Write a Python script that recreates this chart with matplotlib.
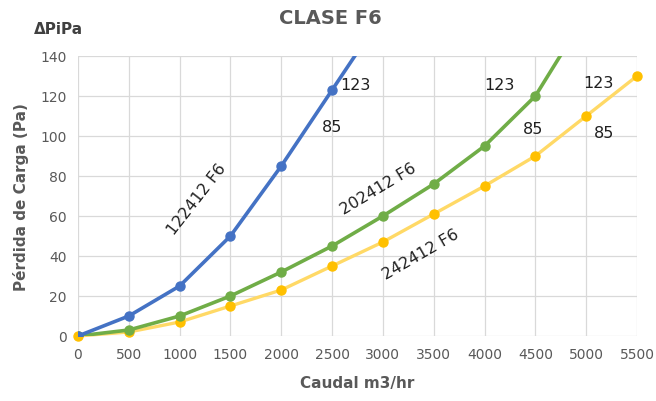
import matplotlib
matplotlib.use("Agg")
import matplotlib.pyplot as plt

caudal = [0, 500, 1000, 1500, 2000, 2500, 3000, 3500, 4000, 4500, 5000, 5500]
blue_x = [0, 500, 1000, 1500, 2000, 2500, 3000]
blue_y = [0, 10, 25, 50, 85, 123, 161]
green_x = [0, 500, 1000, 1500, 2000, 2500, 3000, 3500, 4000, 4500, 5000]
green_y = [0, 3, 10, 20, 32, 45, 60, 76, 95, 120, 161]
yellow_x = caudal
yellow_y = [0, 2, 7, 15, 23, 35, 47, 61, 75, 90, 110, 130]
yticks = [0, 20, 40, 60, 80, 100, 120, 140]

fig = plt.figure(figsize=(6.56, 4.02), dpi=100)
ax = fig.add_axes([78/656, 1-337/402, (637-78)/656, (337-57)/402])

gray = '#595959'
ax.plot(yellow_x, yellow_y, color='#FFD966', lw=2.4, marker='o', ms=6.5,
        mfc='#FFC000', mec='#FFC000', clip_on=False, zorder=3)
ax.plot(green_x, green_y, color='#70AD47', lw=2.6, marker='o', ms=6.5,
        mfc='#70AD47', mec='#70AD47', zorder=4)
ax.plot(blue_x, blue_y, color='#4472C4', lw=2.6, marker='o', ms=6.5,
        mfc='#4472C4', mec='#4472C4', zorder=5)

ax.set_xlim(0, 5500)
ax.set_ylim(0, 140)
ax.set_xticks(caudal)
ax.set_yticks(yticks)
ax.tick_params(length=0, labelsize=10, colors=gray, pad=8)
ax.grid(True, color='#D9D9D9', lw=0.9)
ax.set_axisbelow(True)
for s in ax.spines.values():
    s.set_visible(False)

ax.set_xlabel('Caudal m3/hr', fontsize=11, fontweight='bold', color=gray, labelpad=10)
ax.set_ylabel('Pérdida de Carga (Pa)', fontsize=11, fontweight='bold', color=gray, labelpad=8)
fig.text(330/656, 1-18/402, 'CLASE F6', ha='center', va='center', fontsize=14,
         fontweight='bold', color=gray)
fig.text(34/656, 1-30/402, 'ΔPiPa', ha='left', va='center', fontsize=11,
         fontweight='bold', color='#404040')

tc = '#202020'
ax.text(2580, 125.5, '123', fontsize=11.5, color=tc, va='center', ha='left')
ax.text(2500, 104.5, '85', fontsize=11.5, color=tc, va='center', ha='center')
ax.text(4150, 125.5, '123', fontsize=11.5, color=tc, va='center', ha='center')
ax.text(4480, 103.5, '85', fontsize=11.5, color=tc, va='center', ha='center')
ax.text(5120, 126.5, '123', fontsize=11.5, color=tc, va='center', ha='center')
ax.text(5180, 102, '85', fontsize=11.5, color=tc, va='center', ha='center')
ax.text(1170, 68.5, '122412 F6', fontsize=11.5, color=tc, va='center', ha='center', rotation=52)
ax.text(2950, 74, '202412 F6', fontsize=11.5, color=tc, va='center', ha='center', rotation=31)
ax.text(3370, 41, '242412 F6', fontsize=11.5, color=tc, va='center', ha='center', rotation=30)

fig.savefig('out.png', dpi=100)
